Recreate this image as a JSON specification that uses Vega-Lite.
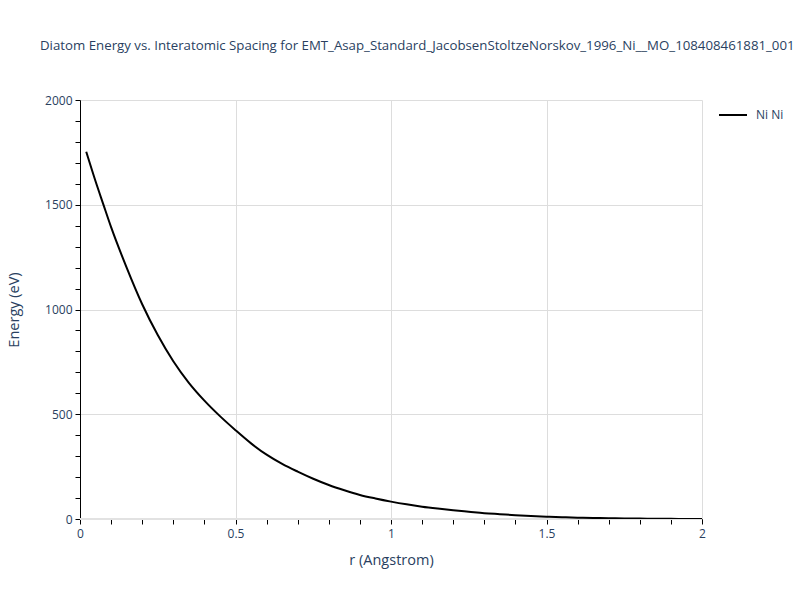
{
 "$schema": "https://vega.github.io/schema/vega-lite/v6.json",
 "width": 622, "height": 419,
 "autosize": {"type": "none"},
 "padding": {"left": 80, "top": 100, "right": 98, "bottom": 81},
 "background": "white",
 "title": {"text": "Diatom Energy vs. Interatomic Spacing for EMT_Asap_Standard_JacobsenStoltzeNorskov_1996_Ni__MO_108408461881_001", "anchor": "start", "frame": "group", "dx": -40, "font": "Open Sans", "fontSize": 13.25, "fontWeight": "normal", "color": "#2a3f5f", "offset": 41},
 "config": {
  "view": {"stroke": null},
  "axis": {"labelFont": "Open Sans", "labelFontSize": 12, "labelColor": "#2a3f5f", "titleFont": "Open Sans", "titleFontSize": 14.5, "titleFontWeight": "normal", "titleColor": "#2a3f5f", "domainColor": "black", "domainWidth": 1, "tickColor": "black", "tickSize": 5, "gridColor": "#dddddd", "gridWidth": 1},
  "legend": {"labelFont": "Open Sans", "labelFontSize": 12, "labelColor": "#2a3f5f"}
 },
 "datasets": {
  "curve": [
   {"r": 0.02, "E": 1753, "pair": "Ni Ni"},
   {"r": 0.05, "E": 1612, "pair": "Ni Ni"},
   {"r": 0.075, "E": 1502, "pair": "Ni Ni"},
   {"r": 0.1, "E": 1393, "pair": "Ni Ni"},
   {"r": 0.15, "E": 1200, "pair": "Ni Ni"},
   {"r": 0.2, "E": 1025, "pair": "Ni Ni"},
   {"r": 0.25, "E": 878, "pair": "Ni Ni"},
   {"r": 0.3, "E": 753, "pair": "Ni Ni"},
   {"r": 0.35, "E": 650, "pair": "Ni Ni"},
   {"r": 0.4, "E": 565, "pair": "Ni Ni"},
   {"r": 0.45, "E": 491, "pair": "Ni Ni"},
   {"r": 0.5, "E": 424, "pair": "Ni Ni"},
   {"r": 0.55, "E": 361, "pair": "Ni Ni"},
   {"r": 0.6, "E": 307, "pair": "Ni Ni"},
   {"r": 0.65, "E": 263, "pair": "Ni Ni"},
   {"r": 0.7, "E": 226, "pair": "Ni Ni"},
   {"r": 0.75, "E": 192, "pair": "Ni Ni"},
   {"r": 0.8, "E": 162, "pair": "Ni Ni"},
   {"r": 0.85, "E": 137, "pair": "Ni Ni"},
   {"r": 0.9, "E": 115, "pair": "Ni Ni"},
   {"r": 0.95, "E": 98, "pair": "Ni Ni"},
   {"r": 1.0, "E": 83, "pair": "Ni Ni"},
   {"r": 1.05, "E": 70, "pair": "Ni Ni"},
   {"r": 1.1, "E": 59, "pair": "Ni Ni"},
   {"r": 1.15, "E": 50, "pair": "Ni Ni"},
   {"r": 1.2, "E": 42, "pair": "Ni Ni"},
   {"r": 1.25, "E": 35, "pair": "Ni Ni"},
   {"r": 1.3, "E": 28, "pair": "Ni Ni"},
   {"r": 1.35, "E": 23, "pair": "Ni Ni"},
   {"r": 1.4, "E": 18, "pair": "Ni Ni"},
   {"r": 1.45, "E": 14, "pair": "Ni Ni"},
   {"r": 1.5, "E": 11, "pair": "Ni Ni"},
   {"r": 1.55, "E": 8.5, "pair": "Ni Ni"},
   {"r": 1.6, "E": 6.5, "pair": "Ni Ni"},
   {"r": 1.65, "E": 5, "pair": "Ni Ni"},
   {"r": 1.7, "E": 3.6, "pair": "Ni Ni"},
   {"r": 1.75, "E": 2.6, "pair": "Ni Ni"},
   {"r": 1.8, "E": 1.8, "pair": "Ni Ni"},
   {"r": 1.85, "E": 1.2, "pair": "Ni Ni"},
   {"r": 1.9, "E": 0.7, "pair": "Ni Ni"},
   {"r": 1.95, "E": 0.3, "pair": "Ni Ni"},
   {"r": 2.0, "E": 0.0, "pair": "Ni Ni"}
  ]
 },
 "layer": [
  {
   "data": {"values": [{"y0": 0}]},
   "mark": {"type": "rule", "color": "#e2e2e2", "strokeWidth": 2},
   "encoding": {"y": {"field": "y0", "type": "quantitative", "title": "Energy (eV)",
          "scale": {"domain": [0, 2000], "nice": false},
          "axis": {"values": [0,100,200,300,400,500,600,700,800,900,1000,1100,1200,1300,1400,1500,1600,1700,1800,1900,2000],
                   "labelExpr": "datum.value % 500 == 0 ? ('' + datum.value) : ''",
                   "gridOpacity": {"condition": {"test": "datum.value % 500 == 0 && datum.value > 0", "value": 1}, "value": 0},
                   "labelPadding": 3, "titlePadding": 23, "labelFlush": false, "labelOverlap": false}}}
  },
  {
   "data": {"name": "curve"},
   "mark": {"type": "line", "strokeWidth": 2, "clip": true, "interpolate": "monotone"},
   "encoding": {
    "x": {"field": "r", "type": "quantitative", "title": "r (Angstrom)",
          "scale": {"domain": [0, 2], "nice": false, "zero": false},
          "axis": {"values": [0,0.1,0.2,0.3,0.4,0.5,0.6,0.7,0.8,0.9,1,1.1,1.2,1.3,1.4,1.5,1.6,1.7,1.8,1.9,2],
                   "labelExpr": "abs(datum.value*2 - round(datum.value*2)) < 0.001 ? ('' + round(datum.value*2)/2) : ''",
                   "gridOpacity": {"condition": {"test": "abs(datum.value*2 - round(datum.value*2)) < 0.001 && datum.value > 0", "value": 1}, "value": 0},
                   "labelPadding": 4, "titlePadding": 14, "labelFlush": false, "labelOverlap": false}},
    "y": {"field": "E", "type": "quantitative", "title": "Energy (eV)",
          "scale": {"domain": [0, 2000], "nice": false},
          "axis": {"values": [0,100,200,300,400,500,600,700,800,900,1000,1100,1200,1300,1400,1500,1600,1700,1800,1900,2000],
                   "labelExpr": "datum.value % 500 == 0 ? ('' + datum.value) : ''",
                   "gridOpacity": {"condition": {"test": "datum.value % 500 == 0 && datum.value > 0", "value": 1}, "value": 0},
                   "labelPadding": 3, "titlePadding": 23, "labelFlush": false, "labelOverlap": false}},
    "color": {"field": "pair", "type": "nominal", "scale": {"range": ["black"]},
              "legend": {"title": null, "orient": "none", "legendX": 638, "legendY": 0, "symbolType": "stroke", "symbolSize": 784, "symbolStrokeWidth": 2, "labelOffset": 8}}
   }
  }
 ]
}
